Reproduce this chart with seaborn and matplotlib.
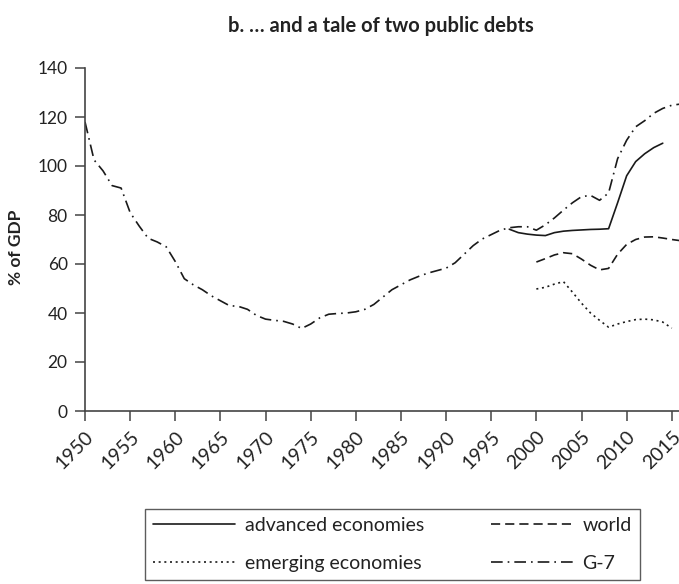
import matplotlib
matplotlib.use("Agg")
import matplotlib.pyplot as plt
import seaborn as sns
import pandas as pd

# ---- data ----
g7_years = list(range(1950, 2017))
g7_values = [118, 102.5, 98, 92, 91, 81, 75.5, 70.5, 69, 67,
             61, 54, 51.5, 49.5, 47, 45, 43, 42.7, 41.5, 39,
             37.5, 37, 36.6, 35.5, 33.7, 35.5, 38, 39.5, 39.8, 40,
             40.5, 41.5, 43.5, 46.5, 49.5, 51.5, 53.5, 55, 56.3, 57.3,
             58.3, 60.5, 64, 67.5, 70.2, 72, 73.8, 74.8, 75.2, 75.2,
             73.8, 76, 78.8, 82, 85, 87.5, 88, 86, 89, 103,
             110.5, 116, 118.5, 121.5, 123.5, 124.8, 125.3]

adv_years = list(range(1997, 2015))
adv_values = [74.2, 72.8, 72.2, 71.8, 71.6, 72.8, 73.4, 73.7, 73.9, 74.1,
              74.2, 74.4, 85, 96, 101.8, 105, 107.5, 109.3]

world_years = list(range(2000, 2017))
world_values = [60.8, 62.2, 63.7, 64.6, 64.2, 62, 59.5, 57.6, 58.2, 64,
                68, 70, 71, 71.1, 70.6, 70, 69.5]

emg_years = list(range(2000, 2016))
emg_values = [49.8, 50.5, 51.8, 52.8, 48.5, 44, 40, 37, 34.2, 35.5,
              36.5, 37.3, 37.5, 37.2, 36.3, 33.8]

x_ticks = list(range(1950, 2016, 5))
y_ticks = list(range(0, 141, 20))

title = "b. \u2026 and a tale of two public debts"
ylabel = "% of GDP"

# ---- style ----
sns.set_theme(style="ticks")
plt.rcParams["font.family"] = ["Lato", "DejaVu Sans"]

W, H = 679, 584
fig = plt.figure(figsize=(W / 100, H / 100), dpi=100)
ax = fig.add_axes([85 / W, (H - 411) / H, 1 - 85 / W, (411 - 68) / H])

ink = "#1a1a1a"
lw = 1.2
series = [
    ("advanced economies", adv_years, adv_values, "-"),
    ("emerging economies", emg_years, emg_values, (0, (1.2, 2.2))),
    ("world", world_years, world_values, (0, (5.5, 3.0))),
    ("G-7", g7_years, g7_values, (0, (7, 3, 1, 3))),
]
for name, xs, ys, ls in series:
    df = pd.DataFrame({"year": xs, "value": ys})
    sns.lineplot(data=df, x="year", y="value", ax=ax, color=ink,
                 linewidth=lw, label=name)
    ax.lines[-1].set_linestyle(ls)

ax.set_xlim(1950, 2015.8)
ax.set_ylim(0, 140)
ax.set_xticks(x_ticks)
ax.set_yticks(y_ticks)
ax.set_xticklabels([str(t) for t in x_ticks], rotation=45, ha="right",
                   rotation_mode="anchor", fontsize=14, color="#222222")
ax.set_yticklabels([str(t) for t in y_ticks], fontsize=12.5, color="#222222")
ax.tick_params(axis="both", direction="out", length=7.5, width=1.1,
               color="#444444", pad=5)
ax.set_xlabel("")
ax.set_ylabel(ylabel, fontsize=12.5, fontweight="bold", color="#222222")
ax.yaxis.set_label_coords((24 - 85) / 594, (411 - 247) / 343)
for side in ("top", "right"):
    ax.spines[side].set_visible(False)
for side in ("left", "bottom"):
    ax.spines[side].set_color("#444444")
    ax.spines[side].set_linewidth(1.2)

fig.text(381 / W, 1 - 26 / H, title, ha="center", va="center",
         fontsize=14.5, fontweight="bold", color="#222222")

ax.get_legend().remove()
handles, labels = ax.get_legend_handles_labels()
lx0, lx1, ly0 = 145, 640, 509
leg = fig.legend(handles, labels, ncol=2, loc="upper left",
                 bbox_to_anchor=(lx0 / W, (H - ly0) / H - 1.0, (lx1 - lx0) / W, 1.0),
                 mode="expand",
                 frameon=True, fancybox=False, edgecolor="#333333",
                 fontsize=14, handlelength=4.2, handletextpad=0.5,
                 columnspacing=2.8, borderpad=0.42, labelspacing=1.08,
                 borderaxespad=0)
leg.get_frame().set_linewidth(1.0)
for t in leg.get_texts():
    t.set_color("#222222")

fig.savefig("out.png", dpi=100)
